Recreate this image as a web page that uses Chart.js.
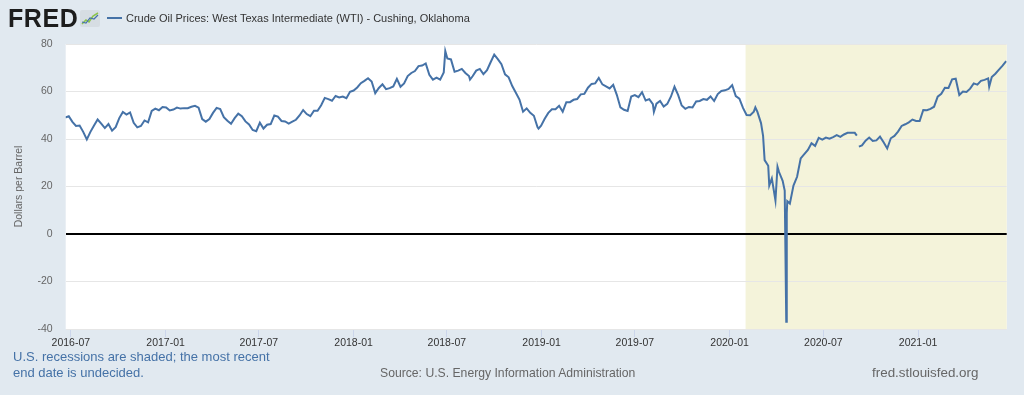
<!DOCTYPE html>
<html>
<head>
<meta charset="utf-8">
<script src="https://cdn.jsdelivr.net/npm/chart.js@4.4.1/dist/chart.umd.min.js"></script>
<style>
  body { margin: 0; background: #e1e9f0; font-family: "Liberation Sans", Arial, sans-serif; }
  #wrap { position: relative; width: 1024px; height: 395px; overflow: hidden; }
  #chart { position: absolute; left: 0; top: 0; }
  .txt { position: absolute; white-space: nowrap; }
  #logo { left: 8px; top: 6px; font-size: 25px; font-weight: 900; line-height: 25px; color: #1d1d1d; letter-spacing: 0.6px; }
  #icon { position: absolute; left: 80px; top: 10px; }
  #legendLine { position: absolute; left: 107px; top: 17px; width: 15px; height: 2px; background: #4572a7; }
  #legendText { left: 126px; top: 11px; font-size: 11px; line-height: 14px; color: #333; }
  #note { left: 13px; top: 349px; font-size: 13px; line-height: 16px; color: #4572a7; }
  #source { left: 380px; top: 365px; font-size: 12.2px; line-height: 16px; color: #666; }
  #site { left: 872px; top: 365px; font-size: 13.4px; line-height: 16px; color: #666; }
</style>
</head>
<body>
<div id="wrap">
  <canvas id="chart" width="1024" height="395"></canvas>
  <div class="txt" id="logo">FRED</div>
  <svg id="icon" width="20" height="17" viewBox="0 0 20 17">
    <rect x="0" y="0" width="20" height="17" rx="2" fill="#d6dde3"/>
    <polyline points="2,14 6,10 9,12 13,6 18,3" fill="none" stroke="#8bc34a" stroke-width="1.5"/>
    <polyline points="2,12 6,13 10,8 14,9 18,5" fill="none" stroke="#4572a7" stroke-width="1.2"/>
  </svg>
  <div id="legendLine"></div>
  <div class="txt" id="legendText">Crude Oil Prices: West Texas Intermediate (WTI) - Cushing, Oklahoma</div>
  <div class="txt" id="note">U.S. recessions are shaded; the most recent<br>end date is undecided.</div>
  <div class="txt" id="source">Source: U.S. Energy Information Administration</div>
  <div class="txt" id="site">fred.stlouisfed.org</div>
</div>
<script>
// weekly (Monday) WTI spot prices, $/barrel
const firstMonday = "2016-06-20";
const prices2016 = [49.0, 49.6, 47.2, 45.5, 45.7, 43.0, 39.8, 43.0, 45.7, 48.2, 46.5, 44.6, 46.3, 43.5,
  45.0, 48.8, 51.4, 50.3, 51.2, 46.8, 44.9, 45.5, 47.8, 47.0, 51.8, 52.8, 52.1, 53.5];
const prices2017 = [53.3, 52.0, 52.4, 53.2, 52.8, 53.0, 53.0, 53.6, 54.0, 53.2, 48.4, 47.3, 48.4,
  51.0, 53.1, 52.6, 49.2, 47.7, 46.4, 48.8, 50.7, 49.6, 47.4, 46.1, 43.8, 43.3,
  46.9, 44.4, 46.0, 46.3, 49.9, 49.4, 47.6, 47.4, 46.5, 47.3, 48.1, 49.9, 52.2,
  50.5, 49.6, 51.9, 51.9, 54.2, 57.3, 56.8, 56.1, 58.1, 57.5, 57.9, 57.2, 59.9];
const prices2018 = [60.4, 61.7, 63.5, 64.5, 65.6, 64.2, 59.3, 61.5, 63.0, 61.0, 61.4, 62.1, 65.3,
  62.0, 63.4, 66.5, 67.8, 68.6, 70.7, 70.9, 71.8, 67.0, 65.0, 65.8, 65.0, 68.0,
  73.9, 73.5, 68.3, 68.8, 69.5, 67.8, 66.5, 66.4, 68.8, 69.5, 67.3, 69.0, 72.3,
  75.5, 73.6, 71.5, 67.2, 66.0, 62.3, 59.5, 56.6, 51.5, 52.9, 51.0, 49.8, 45.0, 45.6];
const prices2019 = [48.5, 51.0, 52.5, 52.5, 54.0, 51.5, 55.5, 55.5, 56.5, 56.8, 58.8, 59.0,
  61.6, 63.2, 63.4, 65.7, 63.0, 62.2, 61.3, 62.8, 58.6, 53.3, 52.3, 51.8, 57.9,
  58.5, 57.6, 59.7, 56.2, 56.8, 54.7, 54.9, 56.0, 53.7, 54.8, 57.8, 62.0, 58.6, 54.1,
  52.7, 53.5, 53.3, 55.8, 56.0, 56.8, 56.5, 57.9, 56.0, 58.9, 60.2, 60.5, 61.1];
const prices2020 = [62.7, 58.1, 57.0, 53.1, 50.1, 50.0, 51.5, 51.4, 46.7, 31.1, 28.7, 23.4, 14.1,
  26.1, 22.4, -36.9, 12.8, 20.4, 24.1, 31.8, 33.6, 35.4, 38.2, 37.1, 40.5, 39.7,
  40.6, 40.1, 40.8, 41.6, 40.9, 41.9, 42.6, 42.6, 42.6, null, 37.3, 39.3, 40.6,
  39.2, 39.4, 41.0, 38.6, 36.0, 40.3, 41.3, 43.1, 45.5, 46.2, 47.0, 48.2, 47.6];
const prices2021 = [47.6, 52.2, 52.1, 52.7, 53.6, 57.8, 59.0, 61.6, 61.5, 65.1, 65.4, 58.5, 60.0,
  59.8, 61.2, 63.4, 62.9, 64.5, 64.9, 65.5, 66.1, 67.5, 69.2, 70.9, 72.8];

// single-day moves the weekly series would miss
const extraDates = ["2018-06-28", "2018-08-15", "2018-12-26", "2019-08-07", "2020-02-20",
  "2020-03-06", "2020-03-18", "2020-04-03", "2020-04-17", "2020-04-21", "2020-04-22",
  "2020-09-04", "2020-09-08", "2021-05-19"];
const extraPrices = [77.0, 65.0, 44.4, 51.4, 53.3, 41.3, 20.4, 28.3, 18.3, 8.9, 13.8, 41.4, 36.8, 62.0];

const tickLabels = ["2016-07", "2017-01", "2017-07", "2018-01", "2018-07", "2019-01",
  "2019-07", "2020-01", "2020-07", "2021-01"];
const rangeStart = "2016-06-21";
const rangeEnd = "2021-06-22";
const recessionStart = "2020-02-01";

const DAY = 86400000;
const toTime = s => { const [y, m, d] = s.split("-").map(Number); return Date.UTC(y, m - 1, d || 1); };

const weekly = [].concat(prices2016, prices2017, prices2018, prices2019, prices2020, prices2021);
const start = toTime(firstMonday);
const points = weekly.map((v, i) => ({ x: start + i * 7 * DAY, y: v }))
  .concat(extraDates.map((d, i) => ({ x: toTime(d), y: extraPrices[i] })))
  .sort((a, b) => a.x - b.x);

const tickValues = tickLabels.map(toTime);
const font = "'Liberation Sans', Arial, sans-serif";

const plotBackground = {
  id: "plotBackground",
  beforeDraw(chart) {
    const { ctx, chartArea: a, scales: { x } } = chart;
    ctx.save();
    ctx.fillStyle = "#ffffff";
    ctx.fillRect(a.left, a.top, a.width, a.height);
    const x0 = Math.max(a.left, x.getPixelForValue(toTime(recessionStart)));
    ctx.fillStyle = "#f4f3da";
    ctx.fillRect(x0, a.top, a.right - x0, a.height);
    ctx.restore();
  }
};

new Chart(document.getElementById("chart"), {
  type: "line",
  data: {
    datasets: [{
      label: "Crude Oil Prices: West Texas Intermediate (WTI) - Cushing, Oklahoma",
      data: points,
      borderColor: "#4572a7",
      borderWidth: 2,
      pointRadius: 0,
      tension: 0,
      spanGaps: false
    }]
  },
  options: {
    responsive: false,
    animation: false,
    layout: { padding: { left: 8, top: 44, right: 17.3, bottom: 36 } },
    plugins: { legend: { display: false }, tooltip: { enabled: false } },
    scales: {
      x: {
        type: "linear",
        min: toTime(rangeStart),
        max: toTime(rangeEnd),
        afterBuildTicks: s => { s.ticks = tickValues.map(v => ({ value: v })); },
        afterFit: s => { s.height = 30; },
        ticks: {
          autoSkip: false, maxRotation: 0, padding: 0, color: "#333",
          font: { family: font, size: 10.5 },
          callback: (v, i) => tickLabels[i]
        },
        grid: { drawOnChartArea: false, tickLength: 8, color: "#ccd6eb" },
        border: { display: false }
      },
      y: {
        min: -40,
        max: 80,
        afterFit: s => { s.width = 57.7; },
        ticks: { stepSize: 20, padding: 13, color: "#666", font: { family: font, size: 10.5 } },
        grid: {
          drawTicks: false,
          color: c => c.tick.value === 0 ? "#000000" : "#e6e6e6",
          lineWidth: c => c.tick.value === 0 ? 2 : 1
        },
        border: { display: false },
        title: {
          display: true, text: "Dollars per Barrel", color: "#666",
          font: { family: font, size: 10.5 }, padding: { top: 5, bottom: 0 }
        }
      }
    }
  },
  plugins: [plotBackground]
});
</script>
</body>
</html>
